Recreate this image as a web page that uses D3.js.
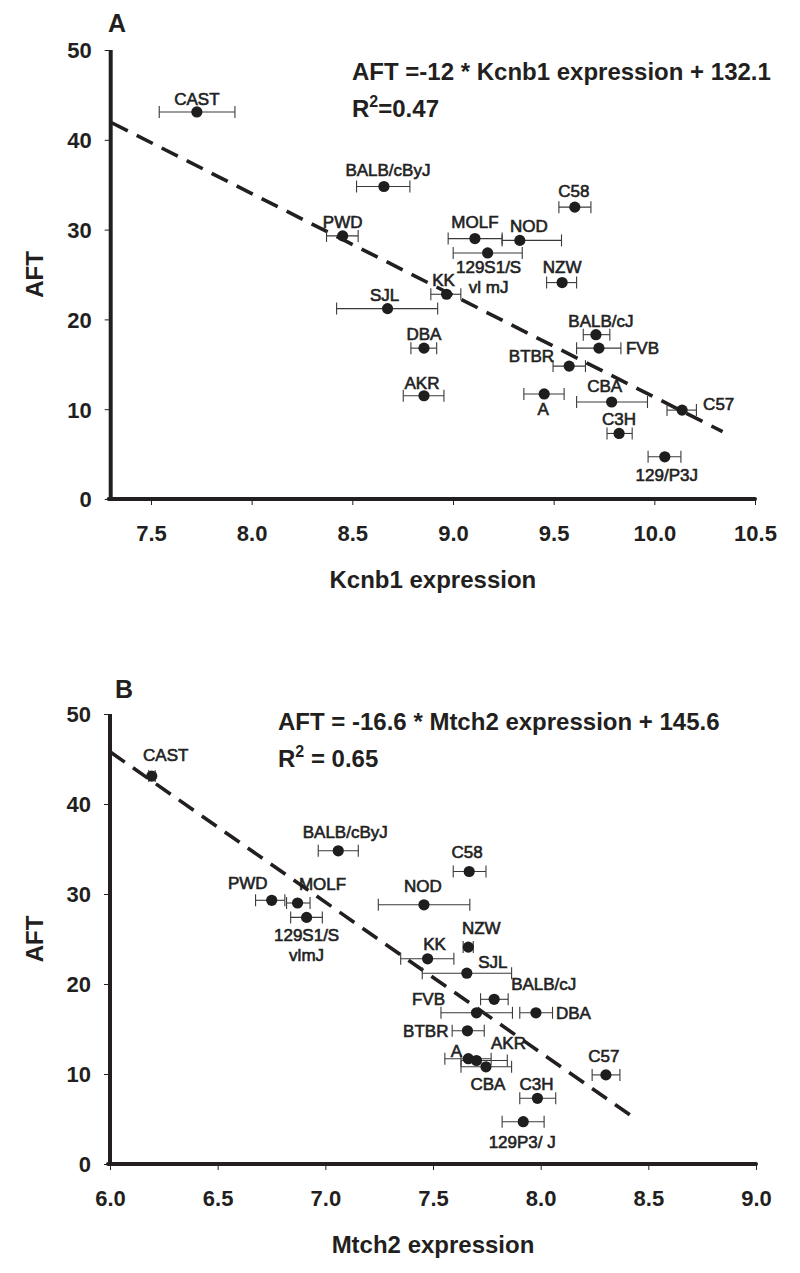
<!DOCTYPE html>
<html><head><meta charset="utf-8">
<script src="https://cdn.jsdelivr.net/npm/d3@7"></script>
<style>
body{margin:0;background:#fff;}
svg{display:block;font-family:"Liberation Sans",Arial,sans-serif;}
</style></head>
<body>
<svg id="chart" width="800" height="1273"></svg>
<script>
// ---- data ----
const strains = ["CAST","BALB/cByJ","PWD","MOLF","NOD","129S1/SvImJ","C58","NZW","KK","SJL","BALB/cJ","FVB","DBA","BTBR","AKR","A","CBA","C57","C3H","129P3/J"];
const aft     = [43.1,34.8,29.3,29.0,28.8,27.4,32.5,24.1,22.8,21.2,18.3,16.8,16.8,14.8,11.5,11.7,10.8,9.9,7.3,4.7];

const kcnb1   = [7.728,8.657,8.452,9.109,9.332,9.172,9.605,9.542,8.968,8.675,9.710,9.725,8.856,9.577,8.856,9.453,9.788,10.138,9.825,10.052];
const kcnb1Lo = [7.541,8.521,8.372,8.976,9.244,9.001,9.526,9.465,8.890,8.422,9.647,9.614,8.791,9.497,8.753,9.352,9.614,10.063,9.765,9.969];
const kcnb1Hi = [7.917,8.786,8.529,9.244,9.539,9.344,9.685,9.614,9.039,8.924,9.779,9.834,8.919,9.658,8.955,9.552,9.966,10.209,9.890,10.132];

const mtch2   = [6.194,7.060,6.751,6.871,7.458,6.913,7.668,7.664,7.475,7.657,7.784,7.702,7.978,7.660,7.702,7.664,7.746,8.303,7.985,7.919];
const mtch2Lo = [6.180,6.967,6.676,6.820,7.246,6.839,7.594,7.640,7.350,7.450,7.721,7.537,7.903,7.589,7.630,7.555,7.630,8.239,7.903,7.821];
const mtch2Hi = [6.210,7.153,6.812,6.929,7.671,6.986,7.746,7.687,7.597,7.865,7.849,7.869,8.055,7.738,7.845,7.770,7.865,8.368,8.070,8.016];

const labelsA = ["CAST","BALB/cByJ","PWD","MOLF","NOD","129S1/S|vl mJ","C58","NZW","KK","SJL","BALB/cJ","FVB","DBA","BTBR","AKR","A","CBA","C57","C3H","129/P3J"];
const labelsB = ["CAST","BALB/cByJ","PWD","MOLF","NOD","129S1/S|vlmJ","C58","NZW","KK","SJL","BALB/cJ","FVB","DBA","BTBR","AKR","A","CBA","C57","C3H","129P3/ J"];

const fitAx = [7.305, 10.339], fitAy = [41.9, 7.5];
const fitBx = [6.0, 8.437],   fitBy = [45.8, 5.08];

const xTicksA = [7.5,8.0,8.5,9.0,9.5,10.0,10.5];
const xTicksB = [6.0,6.5,7.0,7.5,8.0,8.5,9.0];
const yTicks  = [0,10,20,30,40,50];

// label placement (pixel offsets from the point: dx, dy, anchor)
const placeA = [[0,-13,"middle"],[4,-16,"middle"],[0,-14,"middle"],[0,-17,"middle"],[9,-14,"middle"],[1,14,"middle"],
  [-1,-16,"middle"],[0,-16,"middle"],[-3,-14,"middle"],[-3,-14,"middle"],[5,-14,"middle"],[27,0,"start"],[0,-14,"middle"],
  [-15,-10,"end"],[-2,-13,"middle"],[-1,15,"middle"],[-7,-16,"middle"],[21,-6,"start"],[0,-14,"middle"],[2,18,"middle"]];
const placeB = [[14,-21,"middle"],[7,-19,"middle"],[-24,-17,"middle"],[25,-19,"middle"],[-1,-19,"middle"],[0,18,"middle"],
  [-2,-19,"middle"],[13,-19,"middle"],[7,-15,"middle"],[26,-11,"middle"],[17,-15,"start"],[-48,-14,"middle"],[20,0,"start"],
  [-19,0,"end"],[32,-17,"middle"],[-12,-8,"middle"],[2,17,"middle"],[-2,-19,"middle"],[-1,-14,"middle"],[-1,20,"middle"]];

const ink = "#231f20";
const svg = d3.select("#chart");

function panel(cfg){
  const g = svg.append("g");
  const x = d3.scaleLinear().domain(cfg.xDomain).range(cfg.xRange);
  const y = d3.scaleLinear().domain([0,50]).range(cfg.yRange);

  // axes ticks
  const yAx = g.append("g").attr("transform",`translate(${cfg.xRange[0]},0)`)
    .call(d3.axisLeft(y).tickValues(yTicks).tickSize(6).tickFormat(d3.format("d")));
  yAx.select(".domain").remove();
  yAx.selectAll(".tick line").attr("stroke",ink).attr("stroke-width",1);
  yAx.selectAll(".tick text").attr("x",-19).attr("dy","0.36em")
     .attr("font-size",22).attr("font-weight","bold").attr("fill",ink).attr("font-family","Liberation Sans, Arial, sans-serif");

  const xAx = g.append("g").attr("transform",`translate(0,${cfg.yRange[0]})`)
    .call(d3.axisBottom(x).tickValues(cfg.xTicks).tickSize(6).tickFormat(d3.format(".1f")));
  xAx.select(".domain").remove();
  xAx.selectAll(".tick line").attr("stroke",ink).attr("stroke-width",1);
  xAx.selectAll(".tick text").attr("y",42).attr("dy",0)
     .attr("font-size",22).attr("font-weight","bold").attr("fill",ink).attr("font-family","Liberation Sans, Arial, sans-serif");

  // thick axis lines
  g.append("line").attr("x1",cfg.xRange[0]).attr("x2",cfg.xRange[0])
    .attr("y1",y(50)).attr("y2",y(0)+2).attr("stroke",ink).attr("stroke-width",4);
  g.append("line").attr("x1",cfg.xRange[0]-2).attr("x2",x(cfg.xDomain[1]))
    .attr("y1",y(0)).attr("y2",y(0)).attr("stroke",ink).attr("stroke-width",4).attr("stroke-linecap","round");

  // axis titles
  g.append("text").attr("x",(cfg.xRange[0]+cfg.xRange[1])/2).attr("y",cfg.yRange[0]+89)
    .attr("text-anchor","middle").attr("font-size",24).attr("font-weight","bold").attr("fill",ink).text(cfg.xTitle);
  g.append("text").attr("transform",`translate(43,${(cfg.yRange[0]+cfg.yRange[1])/2}) rotate(-90)`)
    .attr("text-anchor","middle").attr("font-size",24).attr("font-weight","bold").attr("fill",ink).text("AFT");

  // panel letter
  g.append("text").attr("x",cfg.letterX).attr("y",cfg.letterY).attr("font-size",25).attr("font-weight","bold")
    .attr("fill",ink).text(cfg.letter);

  // equation
  const eq = g.append("text").attr("x",cfg.eqX).attr("y",cfg.eqY).attr("font-size",24).attr("font-weight","bold").attr("fill",ink);
  eq.text(cfg.eq1);
  const r2 = g.append("text").attr("x",cfg.eqX).attr("y",cfg.eqY+37).attr("font-size",24).attr("font-weight","bold").attr("fill",ink);
  r2.append("tspan").text("R");
  r2.append("tspan").attr("font-size",16).attr("dy",-10).text("2");
  r2.append("tspan").attr("dy",10).text(cfg.eq2);

  // regression line
  const line = d3.line().x(d=>x(d[0])).y(d=>y(d[1]));
  g.append("path").datum(d3.zip(cfg.fitX,cfg.fitY)).attr("d",line)
    .attr("fill","none").attr("stroke",ink).attr("stroke-width",3.6).attr("stroke-dasharray","18,10");

  // error bars + points
  const data = strains.map((s,i)=>({s, xv:cfg.xs[i], lo:cfg.lo[i], hi:cfg.hi[i], yv:aft[i], lab:cfg.labels[i], p:cfg.place[i]}));
  const eb = g.append("g").attr("stroke","#3a3a3a").attr("stroke-width",1.1);
  data.forEach(d=>{
    const cy=y(d.yv);
    eb.append("line").attr("x1",x(d.lo)).attr("x2",x(d.hi)).attr("y1",cy).attr("y2",cy);
    eb.append("line").attr("x1",x(d.lo)).attr("x2",x(d.lo)).attr("y1",cy-6).attr("y2",cy+6);
    eb.append("line").attr("x1",x(d.hi)).attr("x2",x(d.hi)).attr("y1",cy-6).attr("y2",cy+6);
  });
  g.append("g").selectAll("circle").data(data).join("circle")
    .attr("cx",d=>x(d.xv)).attr("cy",d=>y(d.yv)).attr("r",5.6).attr("fill","#1e1e1e");

  // labels
  data.forEach(d=>{
    const parts = d.lab.split("|");
    parts.forEach((t,k)=>{
      g.append("text").attr("x",x(d.xv)+d.p[0]).attr("y",y(d.yv)+d.p[1]+k*20)
        .attr("dy","0.35em").attr("text-anchor",d.p[2]).attr("font-size",17)
        .attr("fill","#222").attr("stroke","#222").attr("stroke-width",0.6).text(t);
    });
  });
}

panel({xDomain:[7.3,10.5], xRange:[110.7,755], yRange:[499,50], xTicks:xTicksA, xs:kcnb1, lo:kcnb1Lo, hi:kcnb1Hi,
  labels:labelsA, place:placeA, fitX:fitAx, fitY:fitAy, xTitle:"Kcnb1 expression", letter:"A", letterX:108, letterY:32,
  eqX:352, eqY:80, eq1:"AFT =-12 * Kcnb1 expression + 132.1", eq2:"=0.47"});
panel({xDomain:[6,9], xRange:[110,756], yRange:[1164,714], xTicks:xTicksB, xs:mtch2, lo:mtch2Lo, hi:mtch2Hi,
  labels:labelsB, place:placeB, fitX:fitBx, fitY:fitBy, xTitle:"Mtch2 expression", letter:"B", letterX:115, letterY:698,
  eqX:278, eqY:730, eq1:"AFT = -16.6 * Mtch2 expression + 145.6", eq2:" = 0.65"});
</script>
</body></html>
